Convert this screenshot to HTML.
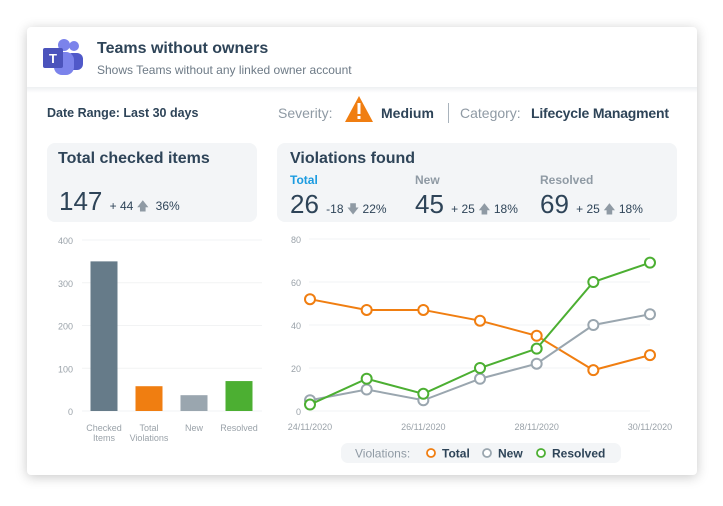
<!DOCTYPE html>
<html><head><meta charset="utf-8"><style>
body{margin:0;width:723px;height:506px;background:#fff;font-family:"Liberation Sans",sans-serif;position:relative;overflow:hidden}
.a{position:absolute;white-space:nowrap}
#card{position:absolute;left:27px;top:27px;width:670px;height:448px;background:#fff;border-radius:4px;box-shadow:0 2px 12px rgba(0,0,0,.22)}
.panel{position:absolute;background:#f3f5f7;border-radius:8px}
.dk{color:#2e4458}
.gr{color:#8f9aa4}
</style></head><body>
<div id="card"></div>
<div class="a" style="left:27px;top:87px;width:670px;height:6px;background:linear-gradient(#eef0f2,#fff)"></div>
<svg class="a" style="left:42px;top:38px" width="46" height="40">
<circle cx="32" cy="8" r="5" fill="#7b83eb"/><rect x="24" y="15" width="17" height="17" rx="6" fill="#5059c9"/>
<circle cx="22" cy="7" r="6" fill="#7b83eb"/><rect x="12" y="14" width="20" height="23" rx="8" fill="#7b83eb"/>
<rect x="1" y="10" width="20" height="20" rx="2" fill="#4b53bc"/><text x="11" y="25" fill="#fff" font-size="13" font-weight="bold" text-anchor="middle" font-family="Liberation Sans">T</text></svg>
<div class="a dk" style="left:97px;top:40px;font-size:16px;font-weight:bold">Teams without owners</div>
<div class="a gr" style="left:97px;top:63px;font-size:12px;color:#6d7a86">Shows Teams without any linked owner account</div>
<div class="a dk" style="left:47px;top:106px;font-size:12.5px;font-weight:bold">Date Range: Last 30 days</div>
<div class="a gr" style="left:278px;top:105px;font-size:14px">Severity:</div>
<svg class="a" style="left:344px;top:95px" width="30" height="28"><path d="M15 1 L29 27 L1 27 Z" fill="#f07e11"/><rect x="13.5" y="8" width="3" height="11" fill="#fff"/><rect x="13.5" y="21" width="3" height="3" fill="#fff"/></svg>
<div class="a dk" style="left:381px;top:105px;font-size:14px;font-weight:bold">Medium</div>
<div class="a" style="left:448px;top:103px;width:1px;height:20px;background:#a9b3bc"></div>
<div class="a gr" style="left:460px;top:105px;font-size:14px">Category:</div>
<div class="a dk" style="left:531px;top:105px;font-size:14px;font-weight:bold;letter-spacing:-0.2px">Lifecycle Managment</div>

<div class="panel" style="left:47px;top:143px;width:210px;height:79px"></div>
<div class="a dk" style="left:58px;top:150px;font-size:16px;font-weight:bold">Total checked items</div>
<div class="a dk" style="left:59px;top:186px;font-size:26px">147 <span style="font-size:12px">+ 44 <span class="gr">🡅</span> &nbsp;36%</span></div>

<div class="panel" style="left:277px;top:143px;width:400px;height:79px"></div>
<div class="a dk" style="left:290px;top:150px;font-size:16px;font-weight:bold">Violations found</div>
<div class="a" style="left:290px;top:173px;font-size:12px;font-weight:bold;color:#1a9be0">Total</div>
<div class="a dk" style="left:290px;top:189px;font-size:26px">26 <span style="font-size:12px">-18 <span class="gr">🡇</span> 22%</span></div>
<div class="a gr" style="left:415px;top:173px;font-size:12px;font-weight:bold">New</div>
<div class="a dk" style="left:415px;top:189px;font-size:26px">45 <span style="font-size:12px">+ 25 <span class="gr">🡅</span> 18%</span></div>
<div class="a gr" style="left:540px;top:173px;font-size:12px;font-weight:bold">Resolved</div>
<div class="a dk" style="left:540px;top:189px;font-size:26px">69 <span style="font-size:12px">+ 25 <span class="gr">🡅</span> 18%</span></div>

<svg id="bar" class="a" style="left:0;top:0" width="723" height="506"></svg>
<div class="a" style="left:341px;top:443px;width:280px;height:20px;background:#f3f5f7;border-radius:7px"></div>
<svg class="a" style="left:0;top:0" width="723" height="506" id="line"></svg>
<script>
const barCats=["Checked|Items","Total|Violations","New","Resolved"];
const barVals=[350,58,37,70];
const barColors=["#667b89","#f07e11","#9aa6af","#4caf32"];
const barTicks=[0,100,200,300,400];
const dates=["24/11/2020","25/11/2020","26/11/2020","27/11/2020","28/11/2020","29/11/2020","30/11/2020"];
const totalVals=[52,47,47,42,35,19,26];
const newVals=[5,10,5,15,22,40,45];
const resolvedVals=[3,15,8,20,29,60,69];
const lineTicks=[0,20,40,60,80];
const NS="http://www.w3.org/2000/svg";
function mk(p,t,at){const e=document.createElementNS(NS,t);for(const k in at)e.setAttribute(k,at[k]);p.appendChild(e);return e;}
const bs=document.getElementById('bar');
const by=v=>411-v*(171/400), bx=i=>104+i*45;
barTicks.forEach(t=>{const g=mk(bs,'line',{x1:82,x2:262,y1:by(t),y2:by(t),stroke:'#f2f3f4'});


const tx=mk(bs,'text',{x:73,y:by(t)+4,'text-anchor':'end','font-size':9,fill:'#9aa2a9'});tx.textContent=t;

});
barVals.forEach((v,i)=>{const r=mk(bs,'rect',{x:bx(i)-13.5,y:by(v),width:27,height:by(0)-by(v),fill:barColors[i]});


barCats[i].split('|').forEach((s,j)=>{const t=mk(bs,'text',{x:bx(i),y:431+j*10,'text-anchor':'middle','font-size':9,fill:'#9aa2a9'});t.textContent=s;

});});
const ls=document.getElementById('line');
const ly=v=>411-v*(172/80), lx=i=>310+i*(340/6);
lineTicks.forEach(t=>{const g=mk(ls,'line',{x1:309,x2:650,y1:ly(t),y2:ly(t),stroke:'#f2f3f4'});


const tx=mk(ls,'text',{x:301,y:ly(t)+4,'text-anchor':'end','font-size':9,fill:'#9aa2a9'});tx.textContent=t;

});
dates.forEach((d,i)=>{if(i%2)return;const t=mk(ls,'text',{x:lx(i),y:430,'text-anchor':'middle','font-size':9,fill:'#9aa2a9'});t.textContent=d;

});
[[totalVals,'#f07e11','total'],[newVals,'#9aa6af','new'],[resolvedVals,'#4caf32','resolved']].forEach(([vals,c,n])=>{
const p=mk(ls,'polyline',{points:vals.map((v,i)=>lx(i)+','+ly(v)).join(' '),fill:'none',stroke:c,'stroke-width':2});


vals.forEach((v,i)=>{const ci=mk(ls,'circle',{cx:lx(i),cy:ly(v),r:5,fill:'#fff',stroke:c,'stroke-width':2});

});});
const leg=[['Violations:',355,'#8f9aa4','normal',null],['Total',442,'#2e4458','bold','#f07e11'],['New',498,'#2e4458','bold','#9aa6af'],['Resolved',552,'#2e4458','bold','#4caf32']];
leg.forEach(([s,x,c,w,mc])=>{if(mc){const m=mk(ls,'circle',{cx:x-11,cy:453,r:4,fill:'#fff',stroke:mc,'stroke-width':1.8});

}
const t=mk(ls,'text',{x:x,y:457.5,'font-size':12,fill:c,'font-weight':w});t.textContent=s;

});
</script>
</body></html>
